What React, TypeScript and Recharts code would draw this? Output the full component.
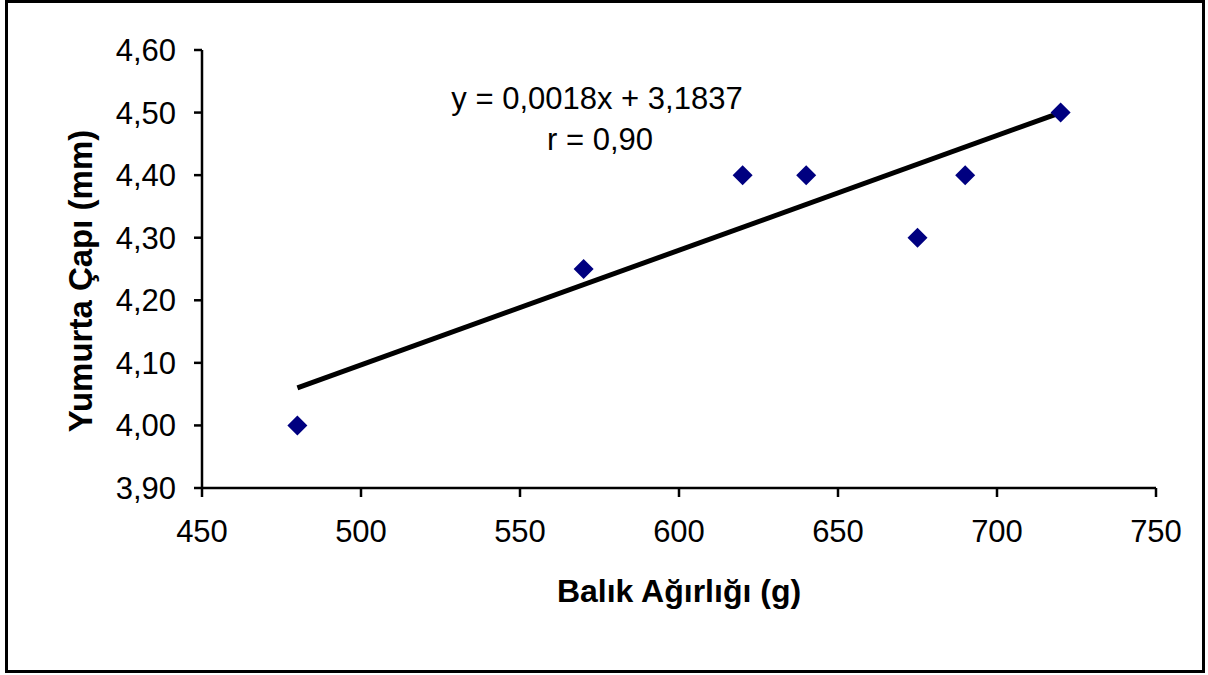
import {
  ComposedChart,
  Scatter,
  XAxis,
  YAxis,
  ReferenceLine,
} from 'recharts';

const weights = [480, 570, 620, 640, 675, 690, 720];
const diameters = [4.0, 4.25, 4.4, 4.4, 4.3, 4.4, 4.5];
const xTicks = [450, 500, 550, 600, 650, 700, 750];
const yTicks = [3.9, 4.0, 4.1, 4.2, 4.3, 4.4, 4.5, 4.6];
const trendX = [480, 720];
const trendY = [4.06, 4.5];

const points = weights.map((w, i) => ({ x: w, y: diameters[i] }));

const FONT = '"Liberation Sans", Arial, sans-serif';

function Diamond(props: any) {
  const { cx, cy } = props;
  const r = 10;
  return (
    <polygon
      points={`${cx},${cy - r} ${cx + r},${cy} ${cx},${cy + r} ${cx - r},${cy}`}
      fill="#000080"
    />
  );
}

function YTitle() {
  return (
    <text
      x={92}
      y={281}
      transform="rotate(-90 92 281)"
      textAnchor="middle"
      fontFamily={FONT}
      fontWeight="bold"
      fontSize={33}
      fill="#000"
    >
      Yumurta Çapı (mm)
    </text>
  );
}

export default function App() {
  return (
    <div style={{ position: 'absolute', left: 0, top: 0, width: 1208, height: 675, background: '#fff' }}>
      <div
        style={{
          position: 'absolute',
          left: 5,
          top: 0,
          width: 1200,
          height: 673,
          border: '3px solid #000',
          boxSizing: 'border-box',
        }}
      />
      <ComposedChart
        width={1208}
        height={675}
        margin={{ top: 50, right: 52, bottom: 0, left: 0 }}
        style={{ position: 'absolute', left: 0, top: 0, fontFamily: FONT }}
      >
        <XAxis
          type="number"
          dataKey="x"
          domain={[450, 750]}
          ticks={xTicks}
          interval={0}
          height={187}
          axisLine={{ stroke: '#000', strokeWidth: 2.5 }}
          tickLine={{ stroke: '#000', strokeWidth: 2.5 }}
          tickSize={9}
          tickMargin={23}
          tick={{ fill: '#000', fontSize: 31, fontFamily: FONT }}
          label={{
            value: 'Balık Ağırlığı (g)',
            position: 'insideTop',
            dy: 86,
            fill: '#000',
            fontSize: 32,
            fontWeight: 'bold',
            fontFamily: FONT,
          }}
        />
        <YAxis
          type="number"
          dataKey="y"
          domain={[3.9, 4.6]}
          ticks={yTicks}
          interval={0}
          width={202}
          axisLine={{ stroke: '#000', strokeWidth: 2.5 }}
          tickLine={{ stroke: '#000', strokeWidth: 2.5 }}
          tickSize={8}
          tickMargin={18}
          tick={{ fill: '#000', fontSize: 31, fontFamily: FONT }}
          tickFormatter={(v: number) => v.toFixed(2).replace('.', ',')}
          label={<YTitle />}
        />
        <ReferenceLine
          segment={[
            { x: trendX[0], y: trendY[0] },
            { x: trendX[1], y: trendY[1] },
          ]}
          stroke="#000"
          strokeWidth={5}
          ifOverflow="visible"
        />
        <Scatter data={points} shape={<Diamond />} isAnimationActive={false} />
        <text x={597} y={109} textAnchor="middle" fontFamily={FONT} fontSize={31} fill="#000">
          y = 0,0018x + 3,1837
        </text>
        <text x={600} y={150} textAnchor="middle" fontFamily={FONT} fontSize={31} fill="#000">
          r = 0,90
        </text>
      </ComposedChart>
    </div>
  );
}
